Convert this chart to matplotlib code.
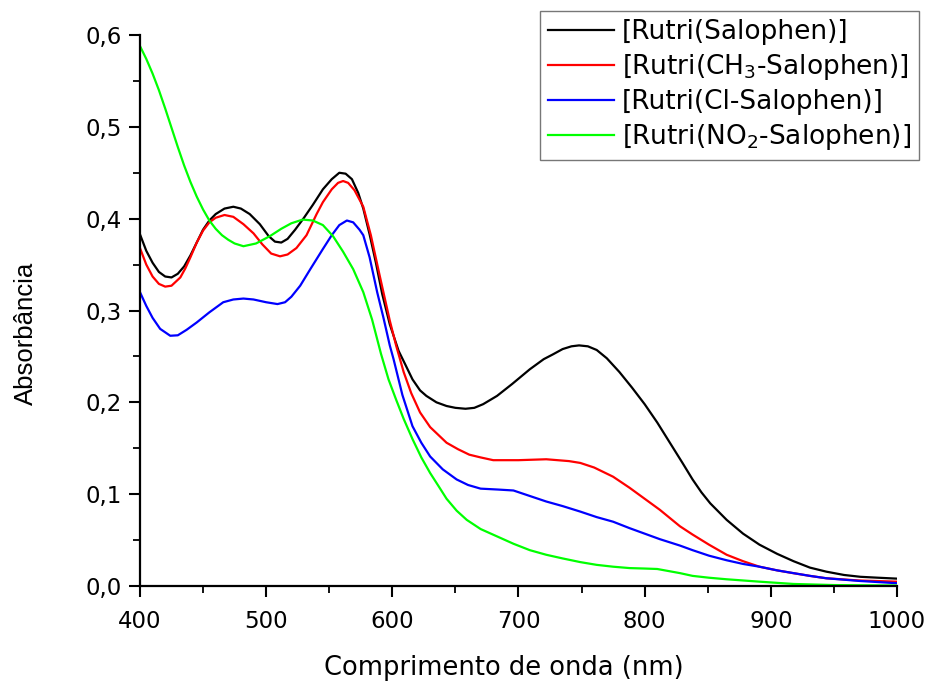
import matplotlib
matplotlib.use("Agg")
import matplotlib.pyplot as plt
from matplotlib.ticker import MultipleLocator, FuncFormatter

# UV-Vis spectra of the Rutri(Salophen) family (wavelength in nm, absorbance)
wl_salophen = [400, 405, 410, 415, 420, 425, 430, 435, 440, 445, 450, 455, 460, 467,
               474, 480, 487, 495, 502, 507, 512, 517, 523, 530, 537, 545, 552, 558,
               563, 568, 573, 577, 582, 587, 592, 598, 605, 610, 616, 622, 627, 635,
               643, 650, 658, 665, 672, 683, 695, 709, 720, 727, 735, 742, 748, 755,
               762, 770, 780, 790, 800, 810, 820, 830, 838, 845, 852, 865, 878, 891,
               905, 918, 931, 944, 958, 971, 985, 1000]
abs_salophen = [0.383, 0.365, 0.352, 0.342, 0.337, 0.336, 0.340, 0.348, 0.360, 0.374,
                0.388, 0.398, 0.405, 0.411, 0.413, 0.411, 0.405, 0.394, 0.381, 0.375,
                0.374, 0.378, 0.388, 0.401, 0.415, 0.432, 0.443, 0.450, 0.449, 0.443,
                0.428, 0.411, 0.383, 0.352, 0.318, 0.285, 0.256, 0.242, 0.225, 0.213,
                0.207, 0.200, 0.196, 0.194, 0.193, 0.194, 0.198, 0.207, 0.220, 0.236,
                0.247, 0.252, 0.258, 0.261, 0.262, 0.261, 0.257, 0.248, 0.233, 0.216,
                0.198, 0.178, 0.156, 0.134, 0.116, 0.102, 0.090, 0.072, 0.057, 0.045,
                0.035, 0.027, 0.020, 0.0156, 0.012, 0.010, 0.009, 0.008]

wl_ch3 = [400, 405, 410, 415, 420, 425, 432, 436, 440, 445, 450, 455, 460, 467, 474,
          482, 490, 497, 504, 511, 517, 524, 532, 540, 545, 552, 557, 561, 565, 570,
          577, 583, 590, 598, 603, 609, 615, 622, 630, 643, 652, 661, 670, 680, 700,
          722, 740, 749, 760, 775, 788, 801, 812, 828, 838, 851, 865, 878, 891, 905,
          918, 931, 944, 970, 1000]
abs_ch3 = [0.368, 0.350, 0.337, 0.329, 0.326, 0.327, 0.336, 0.346, 0.358, 0.374,
           0.387, 0.396, 0.401, 0.404, 0.402, 0.394, 0.384, 0.372, 0.362, 0.359,
           0.361, 0.368, 0.382, 0.405, 0.418, 0.432, 0.439, 0.441, 0.439, 0.431,
           0.413, 0.382, 0.338, 0.289, 0.262, 0.233, 0.210, 0.189, 0.173, 0.156,
           0.149, 0.143, 0.140, 0.137, 0.137, 0.138, 0.136, 0.134, 0.129, 0.119,
           0.107, 0.094, 0.083, 0.065, 0.056, 0.045, 0.034, 0.027, 0.021, 0.017,
           0.0139, 0.011, 0.0084, 0.006, 0.0047]

wl_cl = [400, 405, 410, 416, 424, 430, 437, 445, 455, 466, 474, 482, 490, 500, 509,
         515, 520, 527, 535, 545, 552, 558, 564, 569, 574, 577, 582, 588, 593, 598,
         601, 608, 616, 623, 630, 640, 651, 660, 670, 684, 696, 709, 722, 735, 749,
         762, 775, 788, 802, 812, 828, 838, 851, 865, 878, 891, 905, 918, 931, 944,
         970, 1000]
abs_cl = [0.320, 0.305, 0.292, 0.280, 0.2725, 0.273, 0.279, 0.287, 0.298, 0.309,
          0.312, 0.313, 0.312, 0.309, 0.307, 0.309, 0.315, 0.327, 0.345, 0.367,
          0.382, 0.393, 0.398, 0.396, 0.388, 0.382, 0.358, 0.320, 0.292, 0.262,
          0.247, 0.208, 0.174, 0.156, 0.141, 0.127, 0.116, 0.110, 0.106, 0.105,
          0.104, 0.098, 0.092, 0.087, 0.081, 0.075, 0.070, 0.063, 0.056, 0.051,
          0.044, 0.039, 0.033, 0.028, 0.024, 0.021, 0.017, 0.014, 0.011, 0.0084,
          0.0055, 0.003]

wl_no2 = [400, 405, 410, 415, 420, 425, 430, 435, 440, 445, 450, 455, 460, 465, 470,
          475, 482, 492, 503, 512, 520, 529, 537, 545, 553, 561, 569, 577, 584, 591,
          597, 603, 609, 616, 623, 630, 637, 643, 651, 659, 670, 683, 696, 709, 722,
          735, 749, 762, 775, 788, 800, 810, 820, 828, 838, 851, 865, 878, 891, 918,
          950, 1000]
abs_no2 = [0.588, 0.574, 0.558, 0.540, 0.520, 0.499, 0.478, 0.458, 0.440, 0.424,
           0.410, 0.398, 0.389, 0.382, 0.377, 0.373, 0.370, 0.373, 0.381, 0.389,
           0.395, 0.399, 0.398, 0.393, 0.381, 0.364, 0.345, 0.320, 0.290, 0.253,
           0.225, 0.203, 0.182, 0.160, 0.140, 0.123, 0.108, 0.095, 0.082, 0.072,
           0.062, 0.054, 0.046, 0.039, 0.034, 0.030, 0.026, 0.023, 0.021, 0.0195,
           0.019, 0.0185, 0.016, 0.014, 0.011, 0.009, 0.0073, 0.006, 0.0047, 0.0022,
           0.001, 0.0005]

labels = ["[Rutri(Salophen)]",
          "[Rutri(CH$_3$-Salophen)]",
          "[Rutri(Cl-Salophen)]",
          "[Rutri(NO$_2$-Salophen)]"]
colors = ["#000000", "#ff0000", "#0000ff", "#00ff00"]

plt.rcParams["mathtext.default"] = "regular"
plt.rcParams["font.family"] = ["DejaVu Sans"]

fig = plt.figure(figsize=(9.3, 6.84), dpi=100)
ax = fig.add_axes([0.1505, 0.1433, 0.814, 0.8055])

series = [(wl_salophen, abs_salophen), (wl_ch3, abs_ch3),
          (wl_cl, abs_cl), (wl_no2, abs_no2)]
for (x, y), lab, col in zip(series, labels, colors):
    ax.plot(x, y, color=col, lw=1.6, label=lab)

ax.set_xlim(400, 1000)
ax.set_ylim(0.0, 0.6)

for side in ("top", "right"):
    ax.spines[side].set_visible(False)
for side in ("left", "bottom"):
    ax.spines[side].set_linewidth(1.6)

ax.xaxis.set_major_locator(MultipleLocator(100))
ax.xaxis.set_minor_locator(MultipleLocator(50))
ax.yaxis.set_major_locator(MultipleLocator(0.1))
ax.yaxis.set_minor_locator(MultipleLocator(0.05))
ax.yaxis.set_major_formatter(FuncFormatter(lambda v, p: f"{v:.1f}".replace(".", ",")))

ax.tick_params(which="major", direction="out", length=8, width=1.5,
               labelsize=16.5, color="black")
ax.tick_params(which="minor", direction="out", length=5, width=1.3, color="black")
ax.tick_params(axis="x", which="major", pad=9)
ax.tick_params(axis="y", which="major", pad=5)

ax.set_xlabel("Comprimento de onda (nm)", fontsize=18.5)
ax.xaxis.set_label_coords(0.481, -0.125)
ax.set_ylabel("Absorbância", fontsize=18.5, family=["Liberation Sans"])
ax.yaxis.set_label_coords(-0.135, 0.459)

leg = fig.legend(loc="upper right", bbox_to_anchor=(0.988, 0.984),
                 fontsize=19, frameon=True, fancybox=False,
                 handlelength=2.5, handletextpad=0.3, labelspacing=0.27,
                 borderpad=0.3, borderaxespad=0.0)
leg.get_frame().set_edgecolor("#555555")
leg.get_frame().set_linewidth(1.0)

fig.savefig("out.png", dpi=100)
